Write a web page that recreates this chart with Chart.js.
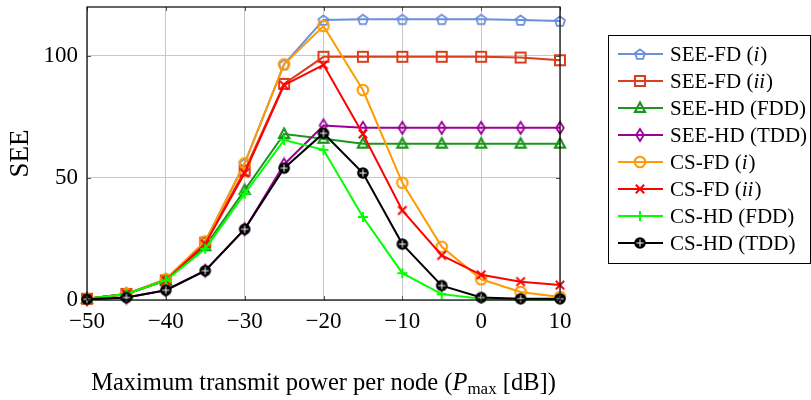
<!DOCTYPE html>
<html>
<head>
<meta charset="utf-8">
<script src="https://cdn.jsdelivr.net/npm/chart.js@4/dist/chart.umd.min.js"></script>
<style>
  html, body { margin: 0; padding: 0; background: #fff; }
  #wrap { width: 811px; height: 400px; position: relative; }
</style>
</head>
<body>
<div id="wrap"><canvas id="chart" width="811" height="400"></canvas></div>
<script>
// --- DATA ---
const powerDb = [-50, -45, -40, -35, -30, -25, -20, -15, -10, -5, 0, 5, 10];
const xTicks = [-50, -40, -30, -20, -10, 0, 10];
const yTicks = [0, 50, 100];

const seeFdI    = [0.5, 2.5, 8.5, 24, 56, 96.5, 114.7, 115, 115, 115, 115, 114.7, 114.3];
const seeFdII   = [0.5, 2.5, 8, 23.5, 53, 88.5, 99.6, 99.6, 99.6, 99.6, 99.6, 99.3, 98.2];
const seeHdFdd  = [0.5, 2.5, 8, 22, 45, 68, 66, 64, 64, 64, 64, 64, 64];
const seeHdTdd  = [0.3, 1, 4, 12, 29, 55.5, 71.5, 70.5, 70.5, 70.5, 70.5, 70.5, 70.5];
const csFdI     = [0.5, 2.5, 8.5, 24, 56, 96.5, 112.2, 86, 48, 21.8, 8.5, 3.3, 1.2];
const csFdII    = [0.5, 2.5, 8, 23, 52, 88, 96.3, 68, 36.7, 18.3, 10.3, 7.5, 6.1];
const csHdFdd   = [0.5, 2.5, 8, 21, 43.5, 65.5, 61.5, 34, 11, 2.4, 0.5, 0.3, 0.2];
const csHdTdd   = [0.3, 1, 4, 12, 29, 54, 68.3, 52, 22.9, 5.9, 1, 0.5, 0.5];

// --- MARKERS (drawn once into small canvases) ---
const makeMarker = (draw) => {
    const c = document.createElement('canvas');
    c.width = 16; c.height = 16;
    const g = c.getContext('2d');
    g.translate(8, 8);
    g.lineJoin = 'miter';
    draw(g);
    return c;
};

const strokePath = (g, color, pts, w) => {
    g.beginPath();
    pts.forEach((p, i) => i ? g.lineTo(p[0], p[1]) : g.moveTo(p[0], p[1]));
    g.closePath();
    g.strokeStyle = color;
    g.lineWidth = w;
    g.stroke();
};

const markers = {
    pentagon: (color) => makeMarker(g => {
        const pts = [];
        for (let k = 0; k < 5; k++) {
            const a = -Math.PI / 2 + k * 2 * Math.PI / 5;
            pts.push([5.2 * Math.cos(a), 5.2 * Math.sin(a) + 0.6]);
        }
        strokePath(g, color, pts, 1.8);
    }),
    square: (color) => makeMarker(g => {
        strokePath(g, color, [[-5, -5], [5, -5], [5, 5], [-5, 5]], 2);
    }),
    triangle: (color) => makeMarker(g => {
        strokePath(g, color, [[0, -5.5], [5, 3.8], [-5, 3.8]], 2.2);
    }),
    diamond: (color) => makeMarker(g => {
        strokePath(g, color, [[0, -6], [3.8, 0], [0, 6], [-3.8, 0]], 1.8);
    }),
    circle: (color) => makeMarker(g => {
        g.beginPath();
        g.arc(0, 0, 5.3, 0, Math.PI * 2);
        g.strokeStyle = color;
        g.lineWidth = 2;
        g.stroke();
    }),
    cross: (color) => makeMarker(g => {
        g.beginPath();
        g.moveTo(-4.2, -4.2); g.lineTo(4.2, 4.2);
        g.moveTo(4.2, -4.2); g.lineTo(-4.2, 4.2);
        g.strokeStyle = color;
        g.lineWidth = 2;
        g.stroke();
    }),
    plus: (color) => makeMarker(g => {
        g.beginPath();
        g.moveTo(-5, 0); g.lineTo(5, 0);
        g.moveTo(0, -5); g.lineTo(0, 5);
        g.strokeStyle = color;
        g.lineWidth = 2;
        g.stroke();
    }),
    oplus: (color) => makeMarker(g => {
        g.beginPath();
        g.arc(0, 0, 5.8, 0, Math.PI * 2);
        g.fillStyle = color;
        g.fill();
        g.beginPath();
        g.moveTo(-3.6, 0); g.lineTo(3.6, 0);
        g.moveTo(0, -3.6); g.lineTo(0, 3.6);
        g.strokeStyle = '#ffffff';
        g.lineWidth = 1;
        g.stroke();
    })
};

// label parts: [text, italic]
const series = [
    { parts: [['SEE-FD (', false], ['i', true], [')', false]], data: seeFdI, color: '#6a8fdb', mark: 'pentagon' },
    { parts: [['SEE-FD (', false], ['ii', true], [')', false]], data: seeFdII, color: '#db3e1c', mark: 'square' },
    { parts: [['SEE-HD (FDD)', false]], data: seeHdFdd, color: '#1c951c', mark: 'triangle' },
    { parts: [['SEE-HD (TDD)', false]], data: seeHdTdd, color: '#990099', mark: 'diamond' },
    { parts: [['CS-FD (', false], ['i', true], [')', false]], data: csFdI, color: '#ff9a00', mark: 'circle' },
    { parts: [['CS-FD (', false], ['ii', true], [')', false]], data: csFdII, color: '#ff0000', mark: 'cross' },
    { parts: [['CS-HD (FDD)', false]], data: csHdFdd, color: '#00ff00', mark: 'plus' },
    { parts: [['CS-HD (TDD)', false]], data: csHdTdd, color: '#000000', mark: 'oplus' }
];
series.forEach(s => { s.img = markers[s.mark](s.color); });

const FONT = '"Liberation Serif", "DejaVu Serif", serif';
const minusSign = v => String(v).replace('-', '\u2212');

// --- BOX, LABELS AND LEGEND ---
const decorPlugin = {
    id: 'decor',
    afterDraw(chart) {
        const ctx = chart.ctx;
        const a = chart.chartArea;
        const xs = chart.scales.x, ys = chart.scales.y;
        ctx.save();

        // small inward ticks
        ctx.strokeStyle = '#555';
        ctx.lineWidth = 1;
        ctx.beginPath();
        xTicks.forEach(v => {
            const px = Math.round(xs.getPixelForValue(v)) + 0.5;
            ctx.moveTo(px, a.bottom); ctx.lineTo(px, a.bottom - 4);
            ctx.moveTo(px, a.top); ctx.lineTo(px, a.top + 4);
        });
        yTicks.forEach(v => {
            const py = Math.round(ys.getPixelForValue(v)) + 0.5;
            ctx.moveTo(a.left, py); ctx.lineTo(a.left + 4, py);
            ctx.moveTo(a.right, py); ctx.lineTo(a.right - 4, py);
        });
        ctx.stroke();

        // axis box
        ctx.strokeStyle = '#000';
        ctx.lineWidth = 1.2;
        ctx.strokeRect(a.left, a.top, a.right - a.left, a.bottom - a.top);

        // y title
        ctx.fillStyle = '#000';
        ctx.font = '27px ' + FONT;
        ctx.textAlign = 'center';
        ctx.textBaseline = 'middle';
        ctx.save();
        ctx.translate(21, (a.top + a.bottom) / 2);
        ctx.rotate(-Math.PI / 2);
        ctx.fillText('SEE', 0, 0);
        ctx.restore();

        // x title with subscript
        const base = 390;
        const pieces = [
            ['Maximum transmit power per node (', '24.5px ' + FONT, 0],
            ['P', 'italic 24.5px ' + FONT, 0],
            ['max', '17px ' + FONT, 4],
            [' [dB])', '24.5px ' + FONT, 0]
        ];
        let total = 0;
        pieces.forEach(p => { ctx.font = p[1]; total += ctx.measureText(p[0]).width; });
        let x = (a.left + a.right) / 2 - total / 2;
        ctx.textAlign = 'left';
        ctx.textBaseline = 'alphabetic';
        pieces.forEach(p => {
            ctx.font = p[1];
            ctx.fillText(p[0], x, base + p[2]);
            x += ctx.measureText(p[0]).width;
        });

        // legend
        const lx = 608, ly = 35, lw = 202, lh = 228;
        ctx.fillStyle = '#fff';
        ctx.fillRect(lx, ly, lw, lh);
        ctx.strokeStyle = '#000';
        ctx.lineWidth = 1;
        ctx.strokeRect(lx + 0.5, ly + 0.5, lw, lh);
        series.forEach((s, i) => {
            const cy = 54 + i * 27;
            ctx.beginPath();
            ctx.moveTo(618, cy); ctx.lineTo(663, cy);
            ctx.strokeStyle = s.color;
            ctx.lineWidth = 2;
            ctx.stroke();
            ctx.drawImage(s.img, 640 - 8, cy - 8);
            let tx = 670;
            ctx.fillStyle = '#000';
            ctx.textBaseline = 'middle';
            s.parts.forEach(p => {
                ctx.font = (p[1] ? 'italic ' : '') + '21px ' + FONT;
                ctx.fillText(p[0], tx, cy + 1);
                tx += ctx.measureText(p[0]).width + (p[1] ? 1 : 0);
            });
        });
        ctx.restore();
    }
};

new Chart(document.getElementById('chart'), {
    type: 'line',
    data: {
        datasets: series.map((s, i) => ({
            label: s.parts.map(p => p[0]).join(''),
            data: powerDb.map((x, k) => ({ x: x, y: s.data[k] })),
            borderColor: s.color,
            backgroundColor: s.color,
            borderWidth: 2,
            pointStyle: s.img,
            pointRadius: 5,
            tension: 0,
            clip: false,
            order: -i
        }))
    },
    options: {
        responsive: false,
        animation: false,
        events: [],
        layout: { padding: { left: 0, right: 251, top: 5, bottom: 0 } },
        plugins: { legend: { display: false }, tooltip: { enabled: false } },
        scales: {
            x: {
                type: 'linear',
                min: -50, max: 10,
                afterBuildTicks: sc => { sc.ticks = xTicks.map(v => ({ value: v })); },
                afterFit: sc => { sc.height = 100; sc.paddingLeft = 0; sc.paddingRight = 0; },
                grid: { color: '#c8c8c8', lineWidth: 1, drawTicks: false },
                border: { display: false },
                ticks: {
                    color: '#000', padding: 8, maxRotation: 0, autoSkip: false,
                    font: { family: FONT, size: 23 },
                    callback: v => minusSign(v)
                }
            },
            y: {
                type: 'linear',
                min: 0, max: 120,
                afterBuildTicks: sc => { sc.ticks = yTicks.map(v => ({ value: v })); },
                afterFit: sc => { sc.width = 87; sc.paddingTop = 0; sc.paddingBottom = 0; },
                grid: { color: '#c8c8c8', lineWidth: 1, drawTicks: false },
                border: { display: false },
                ticks: {
                    color: '#000', padding: 9,
                    font: { family: FONT, size: 23 },
                    callback: v => minusSign(v)
                }
            }
        }
    },
    plugins: [decorPlugin]
});
</script>
</body>
</html>
